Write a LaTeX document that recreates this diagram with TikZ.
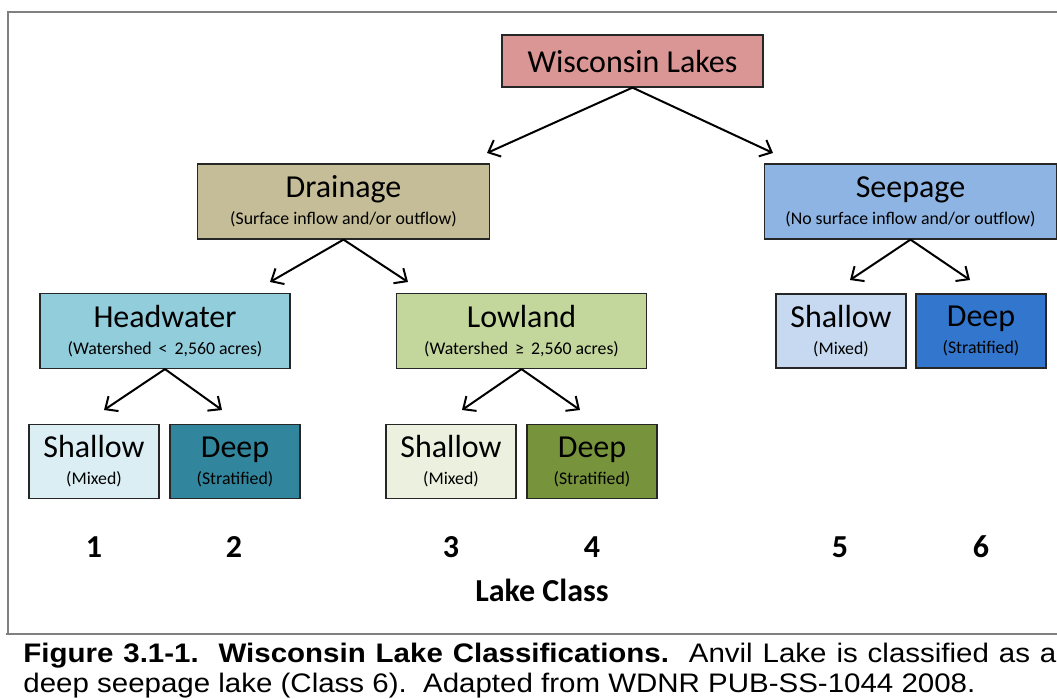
\documentclass[tikz,border=0pt]{standalone}
\usepackage{fontspec}
\setmainfont{Carlito}
\newfontfamily\capfont[FakeStretch=1.1]{Liberation Sans}
\usetikzlibrary{arrows.meta}

\definecolor{topc}{RGB}{217,150,148}
\definecolor{drainc}{RGB}{196,189,151}
\definecolor{seepc}{RGB}{141,180,226}
\definecolor{headc}{RGB}{146,205,220}
\definecolor{lowc}{RGB}{195,214,155}
\definecolor{hshalc}{RGB}{218,238,243}
\definecolor{hdeepc}{RGB}{49,133,156}
\definecolor{lshalc}{RGB}{235,241,222}
\definecolor{ldeepc}{RGB}{119,147,60}
\definecolor{sshalc}{RGB}{198,217,241}
\definecolor{sdeepc}{RGB}{51,118,205}
\definecolor{framec}{RGB}{128,128,128}

\newcommand\bigtxt{\fontsize{16}{13.5}\selectfont}
\newcommand\subtxt{\fontsize{8.9}{10}\selectfont}
\newcommand\lake[2]{#1\\{\subtxt #2}}

\begin{document}
\begin{tikzpicture}[x=0.5pt,y=-0.5pt,
    box/.style={draw=black!85, line width=0.6pt, align=center, font=\bigtxt, inner sep=0pt},
    wide/.style={box, minimum width=146pt, minimum height=37.5pt},
    mid/.style={box, minimum width=125pt, minimum height=37.5pt},
    leaf/.style={box, minimum width=65pt, minimum height=37pt},
    arr/.style={line width=1pt, -{Straight Barb[length=5pt,width=9pt]}},
    capline/.style={anchor=base west, inner sep=0pt, font=\capfont\fontsize{13.4}{15.5}\selectfont}]
    \useasboundingbox (0,0) rectangle (1057,698);
    \clip (0,0) rectangle (1057,698);

    % frame
    \draw[framec, line width=1pt] (1057,12) -- (8,12) -- (8,634);
    \draw[framec, line width=1pt] (6,634) -- (1057,634);

    % level 0 and 1
    \node[box, fill=topc, minimum width=130.5pt, minimum height=26pt] (top) at (632.5,61) {Wisconsin Lakes};
    \node[wide, fill=drainc] (drain) at (343.5,201.5) {\lake{Drainage}{(Surface inflow and/or outflow)}};
    \node[wide, fill=seepc] (seep) at (910.5,201.5) {\lake{Seepage}{(No surface inflow and/or outflow)}};
    % level 2
    \node[mid, fill=headc] (head) at (165,331) {\lake{Headwater}{(Watershed \,<\, 2,560 acres)}};
    \node[mid, fill=lowc] (low) at (521.5,331) {\lake{Lowland}{(Watershed \,≥\, 2,560 acres)}};
    \node[leaf, fill=sshalc] (sshal) at (841,331) {\lake{Shallow}{(Mixed)}};
    \node[leaf, fill=sdeepc] (sdeep) at (981,331) {\lake{Deep}{(Stratified)}};
    % level 3
    \node[leaf, fill=hshalc] (hshal) at (94,461.5) {\lake{Shallow}{(Mixed)}};
    \node[leaf, fill=hdeepc] (hdeep) at (235,461.5) {\lake{Deep}{(Stratified)}};
    \node[leaf, fill=lshalc] (lshal) at (451,461.5) {\lake{Shallow}{(Mixed)}};
    \node[leaf, fill=ldeepc] (ldeep) at (592,461.5) {\lake{Deep}{(Stratified)}};

    % arrow tips
    \foreach \n/\x/\y in {a1/487/153, a2/773/153, b1/270/282, b2/408/282,
        c1/850/280, c2/970/280, d1/104/410, d2/222/410, e1/462/410, e2/580/410}
        \coordinate (\n) at (\x,\y);
    \foreach \s/\t in {top/a1, top/a2, drain/b1, drain/b2, seep/c1, seep/c2,
        head/d1, head/d2, low/e1, low/e2}
        \draw[arr] (\s.south) -- (\t);

    % class numbers
    \foreach \i/\x in {1/94, 2/234, 3/451, 4/592, 5/840, 6/981}
        \node[font=\fontsize{16}{18}\selectfont\bfseries] (n\i) at (\x,547) {\i};
    \node[font=\fontsize{16}{18}\selectfont\bfseries] (cls) at (542,590) {Lake Class};

    % caption
    \node[capline] (cap1) at (23,662)
        {\makebox[516.5pt][s]{\textbf{Figure 3.1-1.\ \ Wisconsin Lake Classifications.}\ \ Anvil Lake is classified as a}};
    \node[capline] (cap2) at (23,692)
        {deep seepage lake (Class 6).\ \ Adapted from WDNR PUB-SS-1044 2008.};
\end{tikzpicture}
\end{document}
